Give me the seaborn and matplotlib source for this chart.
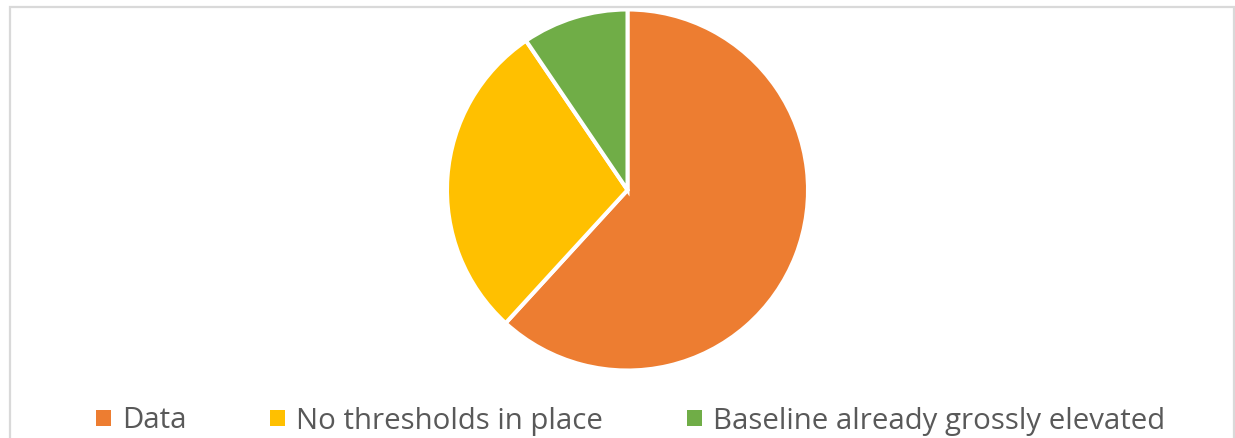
import matplotlib
matplotlib.use("Agg")
import matplotlib.pyplot as plt
from matplotlib.patches import Rectangle
import seaborn as sns

# Share of cases by category
categories = ["Data", "No thresholds in place", "Baseline already grossly elevated"]
shares = [61.8, 28.7, 9.5]
colors = ["#ED7D31", "#FFC000", "#70AD47"]

sns.set_theme(style="white")
plt.rcParams["font.family"] = ["Open Sans", "DejaVu Sans"]

W, H = 1235, 438
fig = plt.figure(figsize=(W / 100, H / 100), dpi=100)
fig.patch.set_facecolor("white")

# chart border (light grey, running off the bottom edge)
fig.patches.append(Rectangle((9.5 / W, -0.05), (1233.8 - 9.5) / W, (H - 7) / H + 0.05,
                             transform=fig.transFigure, fill=False,
                             edgecolor="#D9D9D9", linewidth=1.6, zorder=0))

# pie axes: center (627.5, 190), radius 180.5 px
cx, cy, r = 627.5, 190.0, 180.5
ax = fig.add_axes([(cx - r) / W, (H - cy - r) / H, 2 * r / W, 2 * r / H])
palette = sns.color_palette(colors)
wedges, _ = ax.pie(shares, colors=palette, startangle=90, counterclock=False,
                   radius=1.0, wedgeprops=dict(edgecolor="white", linewidth=2.9))
ax.set_xlim(-1, 1)
ax.set_ylim(-1, 1)
ax.set_aspect("equal")
ax.axis("off")

# legend entries along the bottom
legend_x = [96, 270, 687]
legend_y = 421
for wedge, label, x in zip(wedges, categories, legend_x):
    leg = fig.legend(handles=[wedge], labels=[label], loc="center left",
                     bbox_to_anchor=(x / W, (H - legend_y) / H),
                     frameon=False, borderpad=0, borderaxespad=0,
                     handlelength=0.5, handleheight=0.48, handletextpad=0.38,
                     fontsize=21.2)
    for t in leg.get_texts():
        t.set_color("#595959")
    for h in leg.legend_handles:
        h.set_edgecolor("none")

fig.savefig("out.png", dpi=100, facecolor="white")
